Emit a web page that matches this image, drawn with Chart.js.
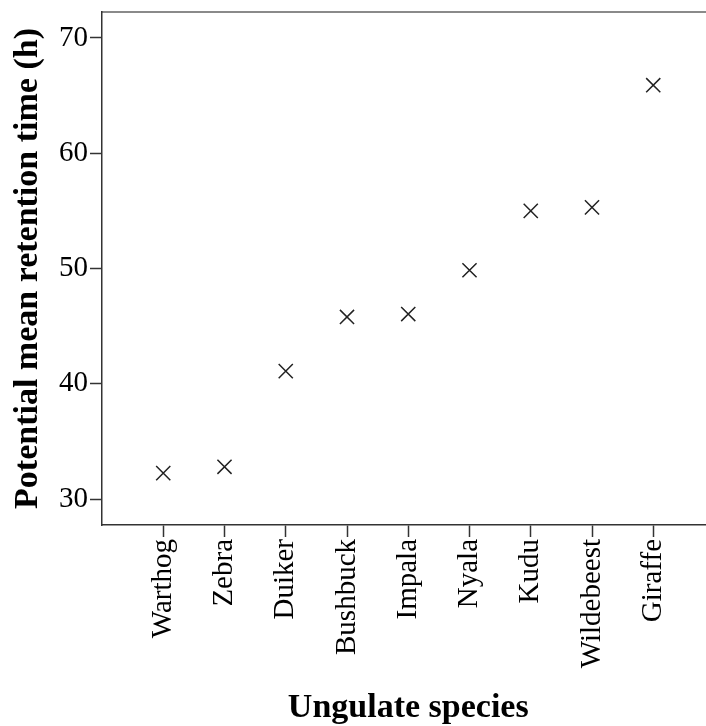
<!DOCTYPE html>
<html>
<head>
<meta charset="utf-8">
<script src="https://cdn.jsdelivr.net/npm/chart.js@4.4.1/dist/chart.umd.min.js"></script>
<style>
  html, body { margin: 0; padding: 0; background: #fff; overflow: hidden; }
  canvas { display: block; }
</style>
</head>
<body>
<canvas id="chart" width="726" height="726"></canvas>
<script>
  const species = ["Warthog", "Zebra", "Duiker", "Bushbuck", "Impala", "Nyala", "Kudu", "Wildebeest", "Giraffe"];
  const retention = [32.25, 32.8, 41.1, 45.8, 46.05, 49.85, 55.0, 55.3, 65.9];
  const yTicks = [30, 40, 50, 60, 70];

  const points = species.map((s, i) => ({ x: i, y: retention[i] }));
  const serif = "'Liberation Serif', 'Times New Roman', serif";
  const axisColor = "#333";

  // drop the extra room chart.js keeps for half a label at the ends of an axis
  function noEdgePadding(scale) {
    scale.paddingTop = 0;
    scale.paddingBottom = 0;
    scale.paddingLeft = 0;
    scale.paddingRight = 0;
  }

  new Chart(document.getElementById("chart"), {
    type: "scatter",
    data: {
      datasets: [{
        data: points,
        pointStyle: "crossRot",
        pointRadius: 10,
        borderColor: "#222",
        borderWidth: 1.5,
        backgroundColor: "#222"
      }]
    },
    options: {
      responsive: false,
      animation: false,
      layout: { padding: 0 },
      plugins: { legend: { display: false }, tooltip: { enabled: false } },
      scales: {
        x: {
          type: "linear",
          position: "bottom",
          min: -1,
          max: 9,
          afterBuildTicks: (scale) => { scale.ticks = species.map((s, i) => ({ value: i })); },
          afterFit: (scale) => { scale.height = 201; noEdgePadding(scale); },
          grid: { drawOnChartArea: false, drawTicks: true, tickLength: 12, tickColor: axisColor, tickWidth: 1.5 },
          border: { color: axisColor, width: 1.5 },
          ticks: {
            autoSkip: false,
            maxRotation: 90,
            minRotation: 90,
            padding: 2,
            color: "#000",
            font: { family: serif, size: 29 },
            callback: (v) => species[v]
          },
          title: {
            display: true,
            text: "Ungulate species",
            color: "#000",
            font: { family: serif, size: 34, weight: "bold", lineHeight: 1 },
            padding: { top: 0, bottom: 1 }
          }
        },
        xTop: {
          type: "linear",
          position: "top",
          min: -1,
          max: 9,
          afterFit: (scale) => { scale.height = 12; noEdgePadding(scale); },
          grid: { drawOnChartArea: false, drawTicks: false },
          border: { color: "#8a8a8a", width: 2 },
          ticks: { display: false }
        },
        y: {
          min: 27.75,
          max: 72.25,
          afterBuildTicks: (scale) => { scale.ticks = yTicks.map(v => ({ value: v })); },
          afterFit: (scale) => { scale.width = 102; noEdgePadding(scale); },
          grid: { drawOnChartArea: false, drawTicks: true, tickLength: 12, tickColor: axisColor, tickWidth: 1.5 },
          border: { color: axisColor, width: 1.5 },
          ticks: {
            padding: 2,
            color: "#000",
            font: { family: serif, size: 29 }
          },
          title: {
            display: true,
            text: "Potential mean retention time (h)",
            color: "#000",
            font: { family: serif, size: 34, weight: "bold", lineHeight: 1 },
            padding: { top: 11, bottom: 0 }
          }
        }
      }
    }
  });
</script>
</body>
</html>
